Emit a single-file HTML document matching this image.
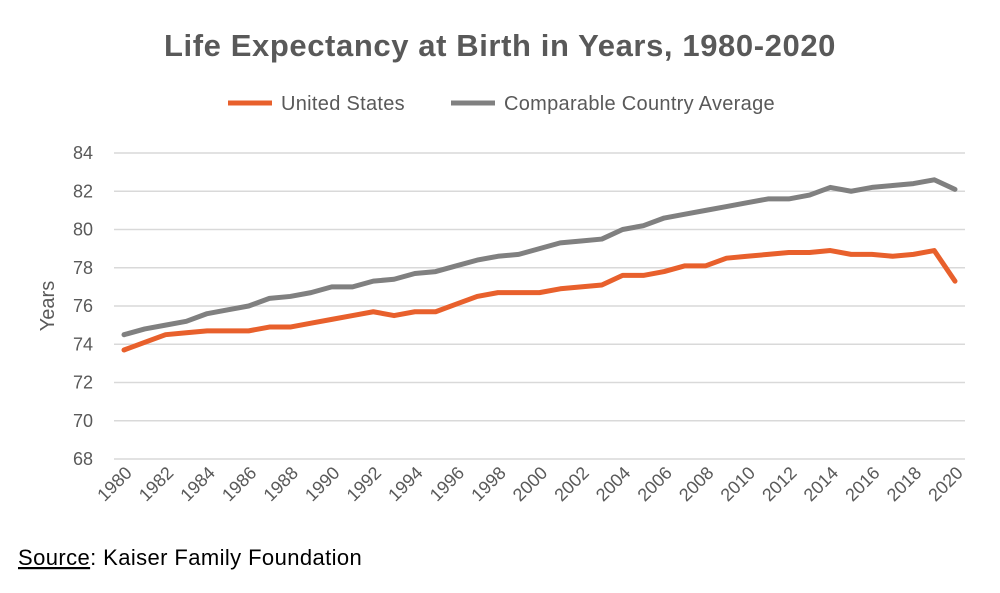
<!DOCTYPE html>
<html><head><meta charset="utf-8"><style>
body{margin:0;background:#fff;font-family:"Liberation Sans",sans-serif}
svg text{font-family:"Liberation Sans",sans-serif}
</style></head><body>
<svg id="c" width="1000" height="588">
<text x="500" y="56" text-anchor="middle" font-size="31" font-weight="bold" fill="#595959" letter-spacing="0.6">Life Expectancy at Birth in Years, 1980-2020</text>
<g>
<line x1="228" y1="103" x2="272" y2="103" stroke="#e8602c" stroke-width="5"/>
<text x="281" y="110" font-size="20" fill="#595959" letter-spacing="0.3">United States</text>
<line x1="451" y1="103" x2="495" y2="103" stroke="#808080" stroke-width="5"/>
<text x="504" y="110" font-size="20" fill="#595959" letter-spacing="0.3">Comparable Country Average</text>
</g>
<text transform="translate(54,306) rotate(-90)" text-anchor="middle" font-size="20" fill="#595959">Years</text>
<g id="grid"></g><g id="yt"></g><g id="xt"></g><g id="lines"></g>
<text x="18" y="565" font-size="22" fill="#000" letter-spacing="0.4"><tspan text-decoration="underline">Source</tspan>: Kaiser Family Foundation</text>
</svg>
<script>
const years=[];for(let y=1980;y<=2020;y++)years.push(y);
const usValues=[73.7,74.1,74.5,74.6,74.7,74.7,74.7,74.9,74.9,75.1,75.3,75.5,75.7,75.5,75.7,75.7,76.1,76.5,76.7,76.7,76.7,76.9,77.0,77.1,77.6,77.6,77.8,78.1,78.1,78.5,78.6,78.7,78.8,78.8,78.9,78.7,78.7,78.6,78.7,78.9,77.3];
const compValues=[74.5,74.8,75.0,75.2,75.6,75.8,76.0,76.4,76.5,76.7,77.0,77.0,77.3,77.4,77.7,77.8,78.1,78.4,78.6,78.7,79.0,79.3,79.4,79.5,80.0,80.2,80.6,80.8,81.0,81.2,81.4,81.6,81.6,81.8,82.2,82.0,82.2,82.3,82.4,82.6,82.1];
const yTicks=[68,70,72,74,76,78,80,82,84];
const X0=124,X1=955,Y0=459,Y1=153;
const xs=y=>X0+(y-1980)/(2020-1980)*(X1-X0);
const ys=v=>Y0-(v-68)/(84-68)*(Y0-Y1);
const NS="http://www.w3.org/2000/svg";
function mk(t,a,p){const e=document.createElementNS(NS,t);for(const k in a)e.setAttribute(k,a[k]);p.appendChild(e);return e;}
const g=document.getElementById('grid'),yt=document.getElementById('yt'),xt=document.getElementById('xt'),ln=document.getElementById('lines');
yTicks.forEach(v=>{
 const l=mk('line',{x1:114,x2:965,y1:ys(v),y2:ys(v),stroke:'#d9d9d9','stroke-width':1.5},g);
 
 
 const t=mk('text',{x:93,y:ys(v)+6,'text-anchor':'end','font-size':18,fill:'#595959'},yt);
 t.textContent=v;
 
 
});
years.filter(y=>y%2==0).forEach(y=>{
 const x=xs(y);
 const t=mk('text',{x:x+9,y:474,'text-anchor':'end','font-size':18,fill:'#595959',transform:`rotate(-45 ${x+9} 474)`},xt);
 t.textContent=y;
 
 
});
function line(vals,color,name){
 const p=mk('polyline',{points:vals.map((v,i)=>xs(years[i])+','+ys(v)).join(' '),fill:'none',stroke:color,'stroke-width':5,'stroke-linejoin':'round','stroke-linecap':'round'},ln);
 
 
}
line(compValues,'#808080','comparable-average-line');
line(usValues,'#e8602c','united-states-line');
</script>
</body></html>
